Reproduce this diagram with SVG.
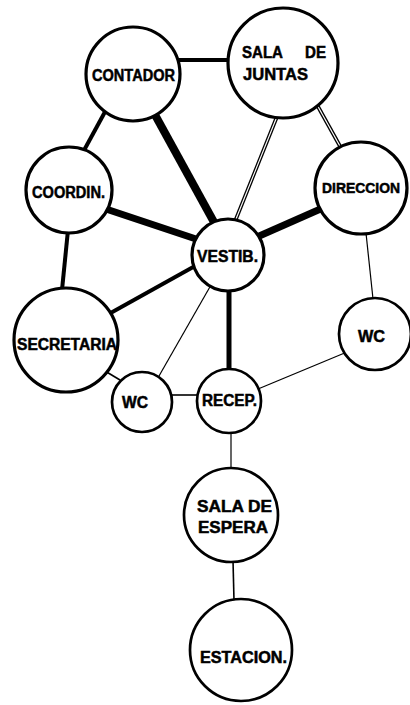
<svg xmlns="http://www.w3.org/2000/svg" width="410" height="705" viewBox="0 0 410 705">
<style>
.bg{fill:#fff}
.n{fill:#fff;stroke:#000;stroke-width:3.2}
.ns{fill:#fff;stroke:#000;stroke-width:2.7}
.t{font-family:"Liberation Sans",Arial,sans-serif;font-weight:bold;font-size:16px;fill:#000;stroke:#000;stroke-width:0.5}
.e{stroke:#000;stroke-linecap:butt;fill:none}
.w1{stroke-width:1.2}
.w2{stroke-width:1.6}
.w4{stroke-width:4}
.w5{stroke-width:5}
.w7{stroke-width:7}
.w8{stroke-width:8}
.dbo{stroke:#000;stroke-width:3.8}
.dbi{stroke:#fff;stroke-width:1.2}
</style>
<rect class="bg" x="0" y="0" width="410" height="705"/>
<g id="connectors">
<line class="e w4" x1="176" y1="60" x2="232" y2="60"/>
<line class="e w4" x1="106" y1="110" x2="82" y2="154"/>
<line class="e w8" x1="154" y1="113" x2="215" y2="224"/>
<line class="e dbo" x1="278" y1="114" x2="234" y2="224"/>
<line class="e dbi" x1="278" y1="114" x2="234" y2="224"/>
<line class="e dbo" x1="316" y1="103" x2="341" y2="148"/>
<line class="e dbi" x1="316" y1="103" x2="341" y2="148"/>
<line class="e w7" x1="106" y1="209" x2="196" y2="239"/>
<line class="e w7" x1="325" y1="207" x2="257" y2="237"/>
<line class="e w4" x1="68" y1="230" x2="62" y2="290"/>
<line class="e w4" x1="107" y1="315" x2="195" y2="266"/>
<line class="e w5" x1="229" y1="288" x2="229" y2="369"/>
<line class="e w1" x1="211" y1="285" x2="159" y2="376"/>
<line class="e w1" x1="366" y1="233" x2="373" y2="299"/>
<line class="e w2" x1="105" y1="371" x2="120" y2="380"/>
<line class="e w2" x1="170" y1="395" x2="199" y2="395"/>
<line class="e w1" x1="258" y1="389" x2="347" y2="352"/>
<line class="e w1" x1="231" y1="431" x2="231" y2="470"/>
<line class="e w2" x1="233" y1="560" x2="234" y2="601"/>
</g>
<g id="contador"><circle class="n" cx="133" cy="74" r="47"/><text class="t" x="92" y="81" textLength="83" lengthAdjust="spacingAndGlyphs">CONTADOR</text></g>
<g id="sala-juntas"><circle class="n" cx="283" cy="63" r="55"/><text class="t" y="58"><tspan x="242" textLength="41" lengthAdjust="spacingAndGlyphs">SALA</tspan><tspan x="305" textLength="21" lengthAdjust="spacingAndGlyphs">DE</tspan></text><text class="t" x="243" y="80" textLength="65" lengthAdjust="spacingAndGlyphs">JUNTAS</text></g>
<g id="coordin"><circle class="n" cx="69" cy="190" r="43"/><text class="t" x="32" y="198" textLength="73" lengthAdjust="spacingAndGlyphs">COORDIN.</text></g>
<g id="direccion"><circle class="n" cx="361" cy="188" r="46"/><text class="t" x="322" y="193" style="font-size:14.5px" textLength="78" lengthAdjust="spacingAndGlyphs">DIRECCION</text></g>
<g id="vestib"><circle class="n" cx="228" cy="255" r="36"/><text class="t" x="197" y="262" textLength="61" lengthAdjust="spacingAndGlyphs">VESTIB.</text></g>
<g id="secretaria"><circle class="n" cx="66" cy="340" r="52"/><text class="t" x="17" y="350" textLength="100" lengthAdjust="spacingAndGlyphs">SECRETARIA</text></g>
<g id="wc-left"><circle class="ns" cx="142" cy="402" r="30"/><text class="t" x="122" y="408" textLength="26" lengthAdjust="spacingAndGlyphs">WC</text></g>
<g id="recep"><circle class="ns" cx="229" cy="401" r="32"/><text class="t" x="202" y="406" textLength="55" lengthAdjust="spacingAndGlyphs">RECEP.</text></g>
<g id="wc-right"><circle class="ns" cx="375" cy="334" r="36"/><text class="t" x="358" y="342" textLength="27" lengthAdjust="spacingAndGlyphs">WC</text></g>
<g id="sala-espera"><circle class="ns" cx="231" cy="515" r="47"/><text class="t" x="197" y="512" textLength="75" lengthAdjust="spacingAndGlyphs">SALA DE</text><text class="t" x="198" y="533" textLength="70" lengthAdjust="spacingAndGlyphs">ESPERA</text></g>
<g id="estacion"><circle class="ns" cx="241" cy="650" r="51"/><text class="t" x="200" y="663" textLength="87" lengthAdjust="spacingAndGlyphs">ESTACION.</text></g>
</svg>
